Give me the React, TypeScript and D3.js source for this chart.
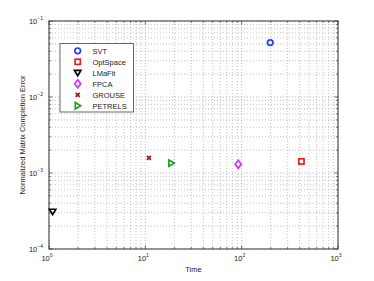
import React from "react";
import * as d3 from "d3";

const methods = ["SVT", "OptSpace", "LMaFit", "FPCA", "GROUSE", "PETRELS"];
const times = [198, 417, 1.09, 92, 10.9, 18.6];
const errors = [0.052, 0.00142, 0.00031, 0.0013, 0.00158, 0.00135];
const colors = ["#1f3cff", "#ee1c1c", "#000000", "#cc33ff", "#a01818", "#22a022"];
const xDecades = [0, 1, 2, 3];
const yDecades = [-4, -3, -2, -1];

const W = 374;
const H = 281;
const m = { left: 49, top: 21, right: 338, bottom: 249 };
const font = "'Liberation Sans', Arial, sans-serif";

function Marker({ kind, x, y, color }: { kind: string; x: number; y: number; color: string }) {
  const sw = 1.7;
  if (kind === "SVT") return <circle cx={x} cy={y} r={2.8} fill="none" stroke={color} strokeWidth={sw} />;
  if (kind === "OptSpace")
    return <rect x={x - 2.6} y={y - 2.6} width={5.2} height={5.2} fill="none" stroke={color} strokeWidth={sw} />;
  if (kind === "LMaFit")
    return <path d={`M${x - 3.2},${y - 2.4}L${x + 3.2},${y - 2.4}L${x},${y + 3}Z`} fill="none" stroke={color} strokeWidth={sw} />;
  if (kind === "FPCA")
    return <path d={`M${x},${y - 4}L${x + 3},${y}L${x},${y + 4}L${x - 3},${y}Z`} fill="none" stroke={color} strokeWidth={sw} />;
  if (kind === "GROUSE")
    return (
      <path d={`M${x - 2},${y - 2}L${x + 2},${y + 2}M${x - 2},${y + 2}L${x + 2},${y - 2}`} stroke={color} strokeWidth={1.8} />
    );
  return <path d={`M${x - 2.4},${y - 3.2}L${x + 3},${y}L${x - 2.4},${y + 3.2}Z`} fill="none" stroke={color} strokeWidth={sw} />;
}

export default function App() {
  const x = d3.scaleLog().domain([1, 1000]).range([m.left, m.right]);
  const y = d3.scaleLog().domain([1e-4, 1e-1]).range([m.bottom, m.top]);

  const xMinor: number[] = [];
  for (let d = 0; d < 3; d++) for (let k = 2; k <= 9; k++) xMinor.push(k * Math.pow(10, d));
  const yMinor: number[] = [];
  for (let d = -4; d < -1; d++) for (let k = 2; k <= 9; k++) yMinor.push(k * Math.pow(10, d));

  const grid = "#9a9a9a";
  return (
    <svg width={W} height={H} style={{ position: "absolute", left: 0, top: 0, background: "#fff" }}>
      {/* grid */}
      {xMinor.map((v) => (
        <line key={"xm" + v} x1={x(v)} x2={x(v)} y1={m.top} y2={m.bottom} stroke={grid} strokeWidth={0.6} strokeDasharray="1,2" />
      ))}
      {yMinor.map((v) => (
        <line key={"ym" + v} x1={m.left} x2={m.right} y1={y(v)} y2={y(v)} stroke={grid} strokeWidth={0.6} strokeDasharray="1,2" />
      ))}
      {xDecades.map((d) => (
        <line key={"xg" + d} x1={x(10 ** d)} x2={x(10 ** d)} y1={m.top} y2={m.bottom} stroke={grid} strokeWidth={0.7} strokeDasharray="1,2" />
      ))}
      {yDecades.map((d) => (
        <line key={"yg" + d} x1={m.left} x2={m.right} y1={y(10 ** d)} y2={y(10 ** d)} stroke={grid} strokeWidth={0.7} strokeDasharray="1,2" />
      ))}
      {/* ticks */}
      {xMinor.map((v) => (
        <g key={"xt" + v} stroke="#333" strokeWidth={0.6}>
          <line x1={x(v)} x2={x(v)} y1={m.bottom} y2={m.bottom - 2} />
          <line x1={x(v)} x2={x(v)} y1={m.top} y2={m.top + 2} />
        </g>
      ))}
      {yMinor.map((v) => (
        <g key={"yt" + v} stroke="#333" strokeWidth={0.6}>
          <line x1={m.left} x2={m.left + 2} y1={y(v)} y2={y(v)} />
          <line x1={m.right} x2={m.right - 2} y1={y(v)} y2={y(v)} />
        </g>
      ))}
      {xDecades.map((d) => (
        <g key={"xT" + d} stroke="#333" strokeWidth={0.7}>
          <line x1={x(10 ** d)} x2={x(10 ** d)} y1={m.bottom} y2={m.bottom - 3.5} />
          <line x1={x(10 ** d)} x2={x(10 ** d)} y1={m.top} y2={m.top + 3.5} />
        </g>
      ))}
      {yDecades.map((d) => (
        <g key={"yT" + d} stroke="#333" strokeWidth={0.7}>
          <line x1={m.left} x2={m.left + 3.5} y1={y(10 ** d)} y2={y(10 ** d)} />
          <line x1={m.right} x2={m.right - 3.5} y1={y(10 ** d)} y2={y(10 ** d)} />
        </g>
      ))}
      <rect x={m.left} y={m.top} width={m.right - m.left} height={m.bottom - m.top} fill="none" stroke="#333" strokeWidth={1} />
      {/* tick labels */}
      {xDecades.map((d) => (
        <text key={"xl" + d} x={x(10 ** d) - 2} y={261} fontFamily={font} fontSize={7.5} textAnchor="middle" fill="#222">
          10
          <tspan dy={-4} fontSize={5}>{d}</tspan>
        </text>
      ))}
      {yDecades.map((d) => (
        <text key={"yl" + d} x={43} y={y(10 ** d) + 3} fontFamily={font} fontSize={7.5} textAnchor="end" fill="#222">
          10
          <tspan dy={-4} fontSize={5}>{"\u2212" + Math.abs(d)}</tspan>
        </text>
      ))}
      <text x={(m.left + m.right) / 2} y={272} fontFamily={font} fontSize={7.5} textAnchor="middle" fill="#222">
        Time
      </text>
      <text
        transform={`translate(25,${(m.top + m.bottom) / 2}) rotate(-90)`}
        fontFamily={font}
        fontSize={7.5}
        textAnchor="middle"
        fill="#222"
      >
        Normalized Matrix Completion Error
      </text>
      {/* points */}
      {methods.map((k, i) => (
        <Marker key={k} kind={k} x={x(times[i])} y={y(errors[i])} color={colors[i]} />
      ))}
      {/* legend */}
      <rect x={60} y={43.5} width={73.5} height={68.5} fill="#fff" stroke="#444" strokeWidth={0.8} />
      {methods.map((k, i) => (
        <g key={"lg" + k}>
          <Marker kind={k} x={77.7} y={50.8 + i * 11} color={colors[i]} />
          <text x={92.5} y={53.5 + i * 11} fontFamily={font} fontSize={7.5} fill="#222">
            {k}
          </text>
        </g>
      ))}
    </svg>
  );
}
